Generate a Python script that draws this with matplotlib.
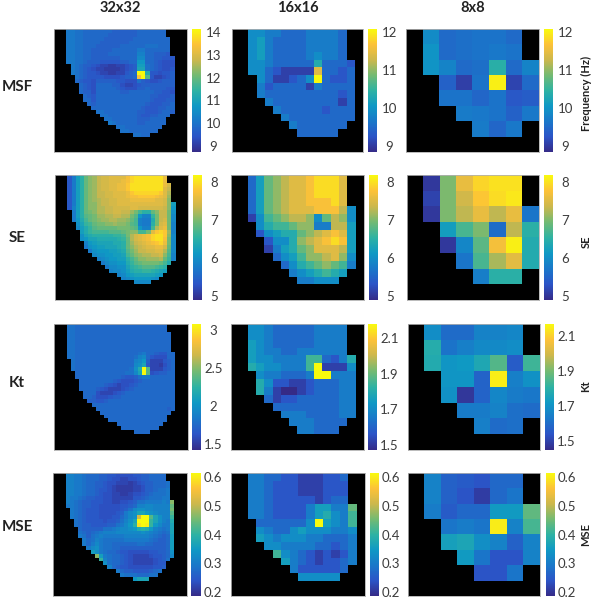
import numpy as np
import matplotlib
matplotlib.use("Agg")
import matplotlib.pyplot as plt
from matplotlib.colors import LinearSegmentedColormap

FIG_W = 596
FIG_H = 600

n = np.nan

column_titles = ["32x32", "16x16", "8x8"]
row_titles = ["MSF", "SE", "Kt", "MSE"]
side_labels = ["Frequency (Hz)", "SE", "Kt", "MSE"]

# first filled column and cell count of each row, '.' inside a row is a masked cell
first_col_32 = [3, 3, 3, 3, 3, 3, 3, 3, 3, 4, 4, 4, 5, 5, 6, 6, 6, 7, 7, 8, 9, 10, 11, 12, 13, 15, 16, 19]
row_len_32 = [24, 24, 25, 25, 25, 25, 25, 26, 26, 25, 25, 25, 24, 24, 23, 23, 23, 22, 22, 21, 20, 19, 17, 15, 14, 11, 9, 4]
first_col_16 = [2, 2, 2, 2, 2, 2, 3, 3, 3, 4, 5, 6, 7, 8]
row_len_16 = [12, 12, 12, 12, 13, 13, 12, 12, 12, 11, 10, 9, 7, 5]

# base 36 digit = share of the colour range (0 bottom, z top)
msf_32 = [
    "998877777776666667777777",
    "998877777766666667777777",
    "9988777776666666777777777",
    "9988777766666667777777777",
    "9988777666666777777888777",
    "9988776666677777799777777",
    "9988776666777777" "7aa776665",
    "99887766666667777bb7766555",
    "99887666555556677dd7765444",
    "9876654332233456ee8765444",
    "9876543322223456ff8765445",
    "9876554332233567zzg554556",
    "876555544445667uzk533456",
    "765546666655444865445666",
    "76547777664334566666666",
    "76547777765444667666655",
    "76647777776677777766554",
    "7657777777777777665556",
    "7757777777777777655566",
    "767777777777776555667",
    "77777777777765556677",
    "8877777777665556776",
    "88777777765566777",
    "887777776667777",
    "98777776677777",
    "88777777777",
    "887777777",
    "8877",
]
se_32 = [
    "59ehlnoqrrssssuwxxxxxxxt",
    "59ehlnoqrrssstuwxxxxxxxt",
    "59ehlnoqrrssttvxxxxxxxxtr",
    "59ehlnoqrrssttvxxxxxxxxsq",
    "59ehlnoqqrrssstvwwwwwwvsp",
    "59ehlnoqqrrssstuuvvvvutso",
    "59ehlnopqqrrsssttttttssrn",
    "59ehlnnpqqrrsssssssssssrne",
    "5aehlnnppqqrrrrssrrrrrrqnd",
    "9ehlmnppqqrrqqomjhhlnqqmc",
    "9ehklmooppqqppmkdaaimqqmb",
    "9dgjlmnooppoonlja99gmqrmb",
    "cfijlmmnnonnmkja99hmrsma",
    "begiklllllmmmlkdaajpstma",
    "egijjjjkkklmnnjjmsvwvoa",
    "cfghhhhhiijmprstuwxxvnb",
    "cdffggggghilprstuwxxumb",
    "adeffffgghloqrstuvwtmb",
    "9cdeefffghlnpqrssttrlb",
    "9cdddeefgkmoqqrrsspkb",
    "bccddeefjlnoppqqrnja",
    "abcddeehjlnnoooplia",
    "9bccddgiklmmmmljg",
    "9bbccfhijkkkjih",
    "abbceghhiihgfe",
    "abdefffffed",
    "abcddddcb",
    "bbbb",
]
kt_32 = [
    "887777777777777777777777",
    "887777777777777777777777",
    "8877777777777777777777777",
    "8877777777777777777777777",
    "8877777777777777777777777",
    "8877777777777777777777777",
    "8877777777777777777777777",
    "88777777777777777897765577",
    "88777777777777778ab7544477",
    "877777777777777abd6333567",
    "877777777777777bcf5332467",
    "877777777777778cgzk333567",
    "77777777777788bfzk456677",
    "777777777776556899777777",
    "77777777654445677777777",
    "77777765434456777777777",
    "77776543334567777777777",
    "7774333456777777777777",
    "7764445667777777777777",
    "665567777777777777777",
    "77777777777777777777",
    "7777777777777777767",
    "77777777777777777",
    "777777777777777",
    "77777777777777",
    "77777777777",
    "777777777",
    "7777",
]
mse_32 = [
    "aa9987776655444455667777",
    "aa9987776654433445667777",
    "aa99877665443332345667778",
    "aa99877665432222334667778",
    "aa99877655432222334667889",
    "aa99877654433223445678889",
    "a998766554433333556788899",
    "a9876655544334456889999a9n",
    "99876655444445567aabbaaaal",
    "987655544444568bccbbaaaam",
    "98765554444569bcffdcbaaak",
    "98765554445579bcrzzkfcaai",
    "876555545568acfzzzifca9g",
    "876655556689bdhxzyidb99f",
    "766666889abbcdghgda989f",
    "876789aaabbbbbbcba9878f",
    "98689a99999aaaaaa98767e",
    "978a98888899999987667e",
    "979b98877777788776667e",
    "9bc98877666666666667e",
    "ec98776554444455667c",
    "ne9877654333345567b",
    "ia877654333334568",
    "c87765433333455",
    "a7655444444556",
    "97665555678",
    "988877788",
    "dfff",
]

# hex digit = share of the colour range (0 bottom, f top)
msf_16 = [
    "554433344443",
    "564333344443",
    "564333344443",
    "564333345443",
    "5543333373332",
    "55321111c3323",
    "5311235f3223",
    "423333143333",
    "433333333323",
    "43333333313",
    "4333332333",
    "433333333",
    "4333333",
    "33333",
]
se_16 = [
    "369abccdeeec",
    "369abccdeeec",
    "369abccdeeec",
    "369abccdddec",
    "369abcccdddb5",
    "1589abba59ba5",
    "57889aa44bb6",
    "256779abcdc6",
    ".2557abcded6",
    "14679acccb6",
    "3568aabca5",
    "35789a984",
    "4567876",
    "44555",
]
kt_16 = [
    "554333334444",
    "554333334444",
    "654333334444",
    "654433444444",
    "6554444883247",
    "76554448f1115",
    "5443334ff444",
    "752211233344",
    "741001233344",
    "31223333344",
    "3333333344",
    "444333344",
    "4443333",
    "44333",
]
mse_16 = [
    "443322111223",
    "443222111222",
    "443222111222",
    "443222221233",
    "4432222466449",
    "4432222467548",
    "3333335f6548",
    "543356555445",
    "654555443334",
    "55444433234",
    "8543212124",
    "643212234",
    "4222223",
    "55555",
]

msf_8 = [
    [n, 9.9, 9.5, 9.55, 9.6, 9.6, 9.5, n],
    [n, 10.0, 9.5, 9.55, 9.6, 9.65, 9.6, n],
    [n, 10.0, 9.8, 9.5, 9.55, 10.4, 9.5, 9.8],
    [n, n, 9.4, 9.05, 9.6, 12.0, 9.1, 9.5],
    [n, n, 9.6, 9.6, 9.45, 9.6, 9.3, 9.35],
    [n, n, n, 9.7, 9.65, 9.6, 9.4, 9.65],
    [n, n, n, n, 9.7, 9.45, 9.65, n],
    [n, n, n, n, n, n, n, n],
]
se_8 = [
    [n, 5.05, 7.0, 7.6, 7.9, 8.0, 8.0, n],
    [n, 5.15, 7.0, 7.4, 7.8, 7.95, 8.05, n],
    [n, 5.05, 7.0, 7.3, 7.6, 7.3, 7.6, 5.7],
    [n, n, 6.2, 6.7, 7.0, 5.6, 7.3, 6.5],
    [n, n, 5.05, 5.9, 6.8, 7.7, 8.1, 6.4],
    [n, n, n, 5.7, 6.7, 7.2, 7.55, 6.4],
    [n, n, n, n, 5.8, 6.5, 6.5, n],
    [n, n, n, n, n, n, n, n],
]
kt_8 = [
    [n, 1.69, 1.60, 1.60, 1.66, 1.66, 1.67, n],
    [n, 1.79, 1.62, 1.65, 1.68, 1.68, 1.69, n],
    [n, 1.78, 1.71, 1.72, 1.77, 1.86, 1.56, 1.83],
    [n, n, 1.71, 1.71, 1.58, 2.15, 1.65, 1.70],
    [n, n, 1.70, 1.48, 1.58, 1.67, 1.64, 1.63],
    [n, n, n, 1.64, 1.64, 1.66, 1.61, 1.60],
    [n, n, n, n, 1.65, 1.60, 1.61, n],
    [n, n, n, n, n, n, n, n],
]
mse_8 = [
    [n, .31, .26, .25, .24, .27, .27, n],
    [n, .31, .26, .24, .21, .27, .29, n],
    [n, .30, .25, .27, .27, .35, .35, .44],
    [n, n, .29, .30, .29, .60, .31, .42],
    [n, n, .36, .37, .33, .31, .26, .31],
    [n, n, n, .35, .29, .24, .24, .31],
    [n, n, n, n, .24, .24, .29, n],
    [n, n, n, n, n, n, n, n],
]

# colour limits per row and column
limits = [
    [(8.74, 14.13), (8.84, 12.08), (8.84, 12.08)],
    [(4.9, 8.18), (4.9, 8.18), (4.9, 8.18)],
    [(1.42, 3.08), (1.47, 2.18), (1.45, 2.17)],
    [(0.186, 0.614), (0.186, 0.614), (0.186, 0.614)],
]
ticks = [
    [[9, 10, 11, 12, 13, 14], [9, 10, 11, 12], [9, 10, 11, 12]],
    [[5, 6, 7, 8], [5, 6, 7, 8], [5, 6, 7, 8]],
    [[1.5, 2, 2.5, 3], [1.5, 1.7, 1.9, 2.1], [1.5, 1.7, 1.9, 2.1]],
    [[0.2, 0.3, 0.4, 0.5, 0.6]] * 3,
]

# pixel boxes: image left, image right, bar left, bar right
x_boxes = [
    [(54, 187, 192, 201), (232, 363, 368, 377), (406, 539, 544, 553)],
    [(55, 188, 193, 202), (231, 364, 369, 378), (407, 539, 544, 553)],
    [(54, 188, 192, 201), (231, 364, 368, 377), (408, 540, 545, 554)],
    [(53, 187, 191, 201), (231, 365, 370, 379), (408, 540, 546, 555)],
]
y_boxes = [(29, 152), (175, 300), (324, 450), (473, 596)]
row_label_y = [87, 238, 383, 527]
side_label_y = [93, 242, 386, 535]

parula = LinearSegmentedColormap.from_list("parula_like", [
    (0.000, (0.208, 0.166, 0.529)),
    (0.125, (0.170, 0.330, 0.780)),
    (0.250, (0.100, 0.470, 0.790)),
    (0.375, (0.060, 0.600, 0.770)),
    (0.500, (0.180, 0.700, 0.640)),
    (0.625, (0.450, 0.730, 0.450)),
    (0.750, (0.800, 0.720, 0.300)),
    (0.875, (0.990, 0.760, 0.220)),
    (1.000, (0.976, 0.983, 0.054)),
])


def decode_rows(rows, first_col, row_len, size, base, low, high):
    """Turns the coded rows into a grid of real values, NaN outside the map."""
    grid = np.full((size, size), np.nan)
    for r, text in enumerate(rows):
        text = (text + text[-1] * row_len[r])[:row_len[r]]
        for offset, char in enumerate(text):
            if char != ".":
                grid[r, first_col[r] + offset] = low + int(char, base) / (base - 1) * (high - low)
    return grid


def px_axes(fig, x0, x1, y0, y1):
    return fig.add_axes([x0 / FIG_W, 1 - y1 / FIG_H, (x1 - x0) / FIG_W, (y1 - y0) / FIG_H])


plt.rcParams["font.family"] = ["Lato", "DejaVu Sans"]
fig = plt.figure(figsize=(FIG_W / 100, FIG_H / 100), dpi=100)

coded_32 = [msf_32, se_32, kt_32, mse_32]
coded_16 = [msf_16, se_16, kt_16, mse_16]
real_8 = [msf_8, se_8, kt_8, mse_8]

for row in range(4):
    for col in range(3):
        low, high = limits[row][col]
        if col == 0:
            grid = decode_rows(coded_32[row], first_col_32, row_len_32, 32, 36, low, high)
        elif col == 1:
            grid = decode_rows(coded_16[row], first_col_16, row_len_16, 16, 16, low, high)
        else:
            grid = np.array(real_8[row])

        x0, x1, bar0, bar1 = x_boxes[row][col]
        y0, y1 = y_boxes[row]

        ax = px_axes(fig, x0, x1, y0, y1)
        ax.set_facecolor("black")
        im = ax.imshow(grid, cmap=parula, vmin=low, vmax=high, aspect="auto", interpolation="nearest")
        ax.set_xticks([])
        ax.set_yticks([])
        for spine in ax.spines.values():
            spine.set_color("#b0b0b0")
            spine.set_linewidth(0.6)

        cax = px_axes(fig, bar0, bar1, y0, y1)
        bar = fig.colorbar(im, cax=cax, ticks=ticks[row][col], format="%g")
        bar.outline.set_visible(False)
        bar.ax.tick_params(length=0, pad=8.8, labelsize=9.5, labelcolor="#3c3c3c")
        for label in bar.ax.get_yticklabels():
            label.set_horizontalalignment("center")

for col in range(3):
    x0, x1, _, _ = x_boxes[0][col]
    fig.text((x0 + x1) / 2 / FIG_W, 1 - 8 / FIG_H, column_titles[col],
             ha="center", va="center", fontsize=10.5, fontweight="bold", color="#222222")

for row in range(4):
    fig.text(17 / FIG_W, 1 - row_label_y[row] / FIG_H, row_titles[row],
             ha="center", va="center", fontsize=11, fontweight="bold", color="#222222")
    fig.text(586 / FIG_W, 1 - side_label_y[row] / FIG_H, side_labels[row], rotation=90,
             ha="center", va="center", fontsize=8, fontweight="bold", color="#222222")

fig.savefig("out.png", dpi=100)
plt.close(fig)
